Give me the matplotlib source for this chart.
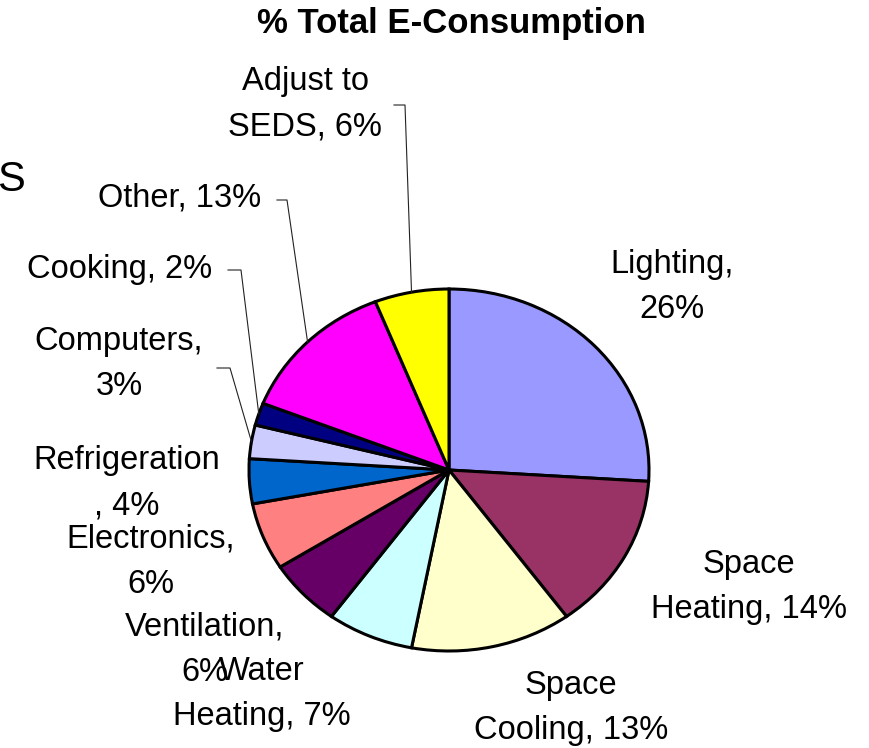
import numpy as np
import matplotlib.pyplot as plt

plt.rcParams['font.family'] = ['Liberation Sans', 'DejaVu Sans']

# slice data, clockwise from 12 o'clock
categories = ["Lighting", "Space Heating", "Space Cooling", "Water Heating", "Ventilation",
              "Electronics", "Refrigeration", "Computers", "Cooking", "Other", "Adjust to SEDS"]
shares = [26, 14, 13, 7, 6, 6, 4, 3, 2, 13, 6]
colors = ["#9999FF", "#993366", "#FFFFCC", "#CCFFFF", "#660066", "#FF8080",
          "#0066CC", "#CCCCFF", "#000080", "#FF00FF", "#FFFF00"]
label_text = ["Lighting,\n26%", "Space\nHeating, 14%", "Space\nCooling, 13%", "Water\nHeating, 7%",
              "Ventilation,\n6%", "Electronics,\n6%", "Refrigeration\n, 4%", "Computers,\n3%",
              "Cooking, 2%", "Other, 13%", "Adjust to\nSEDS, 6%"]

W, H = 870, 748
# pie centre / radii in pixels (pie is a bit stretched horizontally)
cx, cy, rx, ry = 449, 470, 200, 181

# label centres in pixels
label_pos = {
    "Lighting": (672, 287),
    "Space Heating": (749, 587),
    "Space Cooling": (571, 708),
    "Water Heating": (262, 694),
    "Ventilation": (205, 650),
    "Electronics": (151, 562),
    "Refrigeration": (127, 483),
    "Computers": (119, 364),
    "Cooking": (120, 270),
    "Other": (180, 198),
    "Adjust to SEDS": (305, 104),
}
# leader lines: (start, elbow) in pixels, then to the slice mid-point
leaders = {
    "Adjust to SEDS": [(394, 105), (405, 105)],
    "Other": [(277, 200), (287, 200)],
    "Cooking": [(228, 270), (241, 270)],
    "Computers": [(217, 368), (230, 368)],
}


def to_data(p):
    return ((p[0] - cx) / rx, (cy - p[1]) / ry)


fig = plt.figure(figsize=(W / 100, H / 100), dpi=100)
ax = fig.add_axes([0, 0, 1, 1])
wedges, _ = ax.pie(shares, colors=colors, startangle=90, counterclock=False,
                   wedgeprops=dict(edgecolor='black', linewidth=2.2))
ax.set_aspect('auto')
ax.set_xlim(-cx / rx, (W - cx) / rx)
ax.set_ylim((cy - H) / ry, cy / ry)
ax.axis('off')

for name, txt in zip(categories, label_text):
    x, y = to_data(label_pos[name])
    ax.text(x, y, txt, ha='center', va='center', multialignment='center',
            fontsize=23.5, linespacing=1.6, color='black')

for w, name in zip(wedges, categories):
    if name not in leaders:
        continue
    ang = np.deg2rad((w.theta1 + w.theta2) / 2)
    pts = [to_data(p) for p in leaders[name]] + [(np.cos(ang), np.sin(ang))]
    xs, ys = zip(*pts)
    ax.plot(xs, ys, color='#222222', lw=0.8)

fig.text(451 / W, 1 - 23 / H, "% Total E-Consumption", ha='center', va='center',
         fontsize=25, fontweight='bold')
fig.text(-3 / W, 1 - 180 / H, "S", ha='left', va='center', fontsize=30)

fig.savefig("out.png", dpi=100)
